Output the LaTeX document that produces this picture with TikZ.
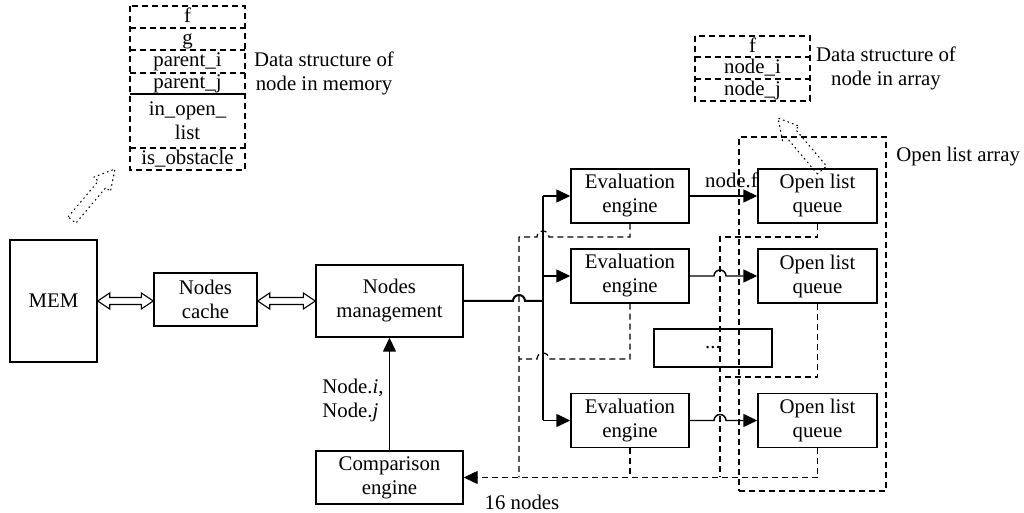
\documentclass[tikz,border=0pt]{standalone}
\usepackage{fontspec}
\setmainfont{Liberation Serif}
\usetikzlibrary{arrows.meta,calc}

\begin{document}
\begin{tikzpicture}[x=0.5pt,y=-0.5pt,
  font=\fontsize{10.4}{12}\selectfont,
  wire/.style={line width=0.7pt},
  box/.style={draw, wire, inner sep=0pt, align=center},
  arr/.style={wire, -{Triangle[length=7pt,width=6.5pt]}},
  dline/.style={line width=0.6pt, dash pattern=on 3pt off 2pt},
  dstext/.style={inner sep=0pt, align=center, text height=1.55ex, text depth=0.35ex},
  hollow/.style={line width=0.55pt, line join=miter},
  dotarrow/.style={line width=0.55pt, dash pattern=on 0.5pt off 1.9pt, line cap=round},
  lbl/.style={inner sep=0pt, align=center}
]
\useasboundingbox (0,0) rectangle (1024,513);

% ---- main blocks ----
\node[box, minimum width=43.5pt, minimum height=61pt] (mem) at (53.5,301) {MEM};
\node[box, minimum width=51.5pt, minimum height=26.5pt] (cache) at (205.5,299.5) {Nodes\\cache};
\node[box, minimum width=73.5pt, minimum height=36pt] (mgmt) at (389.5,301) {Nodes\\management};
\node[box, minimum width=73.5pt, minimum height=26.5pt] (comp) at (389.5,477.5) {Comparison\\engine};

\foreach \n/\y in {1/196,2/276,3/420.5}{
  \node[box, minimum width=59pt, minimum height=27pt] (eval\n) at (630,\y) {Evaluation\\engine};
  \node[box, minimum width=59.5pt, minimum height=27pt] (queue\n) at (817.5,\y) {Open list\\queue};
}
\node[box, minimum width=59pt, minimum height=19pt] (dots) at (713,348) {...};

% ---- open list array frame ----
\node[draw, dline, minimum width=73.5pt, minimum height=177pt, inner sep=0pt] (olarray) at (812.5,314) {};
\node[lbl, anchor=west] (olarraylbl) at (896,157) {Open list array};

% ---- data structure of node in memory ----
\draw[dline] (130,6) rectangle (245,170);
\foreach \y in {28,50,73,148}{ \draw[dline] (130,\y) -- (245,\y); }
\draw[line width=0.6pt] (130,94) -- (245,94);
\node[dstext] (mf) at (187.5,17) {f};
\node[dstext] (mg) at (187.5,39) {g};
\node[dstext] (mpi) at (187.5,61) {parent\_i};
\node[dstext] (mpj) at (187.5,83) {parent\_j};
\node[lbl] (mopen) at (187.5,121) {in\_open\_\\list};
\node[dstext] (mobst) at (187.5,159) {is\_obstacle};
\node[lbl] (memlbl) at (324,73) {Data structure of\\node in memory};

% ---- data structure of node in array ----
\draw[dline] (695,36) rectangle (810,101);
\foreach \y in {57,79}{ \draw[dline] (695,\y) -- (810,\y); }
\node[dstext] (af) at (752.5,46.5) {f};
\node[dstext] (ai) at (752.5,68) {node\_i};
\node[dstext] (aj) at (752.5,90) {node\_j};
\node[lbl] (arrlbl) at (886,68) {Data structure of\\node in array};

% ---- hollow double arrows ----
\draw[hollow] (mem.east) -- ++(12,-8) -- ++(0,4.5)
  -- ($(cache.west|-mem.east)+(-12,-3.5)$) -- ++(0,-4.5) -- (cache.west|-mem.east)
  -- ++(-12,8) -- ++(0,-4.5) -- ($(mem.east)+(12,3.5)$) -- ++(0,4.5) -- cycle;
\draw[hollow] (cache.east|-mem.east) -- ++(12,-8) -- ++(0,4.5)
  -- ($(mgmt.west)+(-12,-3.5)$) -- ++(0,-4.5) -- (mgmt.west)
  -- ++(-12,8) -- ++(0,-4.5) -- ($(cache.east|-mem.east)+(12,3.5)$) -- ++(0,4.5) -- cycle;

% ---- distribution bus to the evaluation engines ----
\coordinate (bus1) at (543,196);
\coordinate (bus2) at (543,276);
\coordinate (bus3) at (543,420.5);
\draw[line width=1pt] (mgmt.east) -- (513,301) arc[start angle=180,end angle=0,radius=3pt] -- (543,301);
\draw[wire] (bus1) -- (bus3);
\draw[arr] (bus1) -- (eval1.west);
\draw[arr] (bus2) -- (eval2.west);
\draw[arr] (bus3) -- (eval3.west);

% ---- evaluation engines to queues ----
\draw[arr] (eval1.east) -- node[lbl, pos=0.5, above=4pt, xshift=4pt] (nodef) {node.f} (queue1.west);
\draw[arr] (eval2.east) -- (714,276) arc[start angle=180,end angle=0,radius=3pt] -- (queue2.west);
\draw[arr] (eval3.east) -- (714,420.5) arc[start angle=180,end angle=0,radius=3pt] -- (queue3.west);

% ---- comparison feedback ----
\draw[arr] (comp.north) -- (mgmt.south);
\node[lbl, align=left, anchor=west] (nodeij) at (322,400) {Node.\textit{i},\\Node.\textit{j}};

% ---- dashed collection lines ----
\coordinate (c1) at (630,237);
\coordinate (c2) at (630,359);
\coordinate (q1) at (817.5,237);
\coordinate (q2) at (817.5,377);
\coordinate (bot) at (817.5,477.5);
\draw[dline] (eval1.south) -- (c1) -- (549,237) arc[start angle=0,end angle=180,radius=3pt] -- (519,237) -- (519,477.5);
\draw[dline] (eval2.south) -- (c2) -- (549,359) arc[start angle=0,end angle=180,radius=3pt] -- (519,359);
\draw[dline] (eval3.south) -- (630,477.5);
\draw[dline] (queue1.south) -- (q1) -- (720,237) -- (720,477.5);
\draw[dline] (queue2.south) -- (q2) -- (720,377);
\draw[dline] (queue3.south) -- (bot);
\draw[dline, -{Triangle[length=7pt,width=6.5pt]}] (bot) -- (comp.east);
\node[lbl] (cnt) at (522,502) {16 nodes};

% ---- dotted hollow arrows towards the data structures ----
\draw[dotarrow] (68.2,216.8) -- (98.3,181.1) -- (93.7,177.2) -- (115,169)
  -- (110.5,191.4) -- (105.9,187.5) -- (75.8,223.2) -- cycle;
\draw[dotarrow] (817.4,173.9) -- (786.3,137.2) -- (782.5,140.4) -- (778,118)
  -- (799.3,126.2) -- (795.5,129.4) -- (826.6,166.1) -- cycle;
\end{tikzpicture}
\end{document}
